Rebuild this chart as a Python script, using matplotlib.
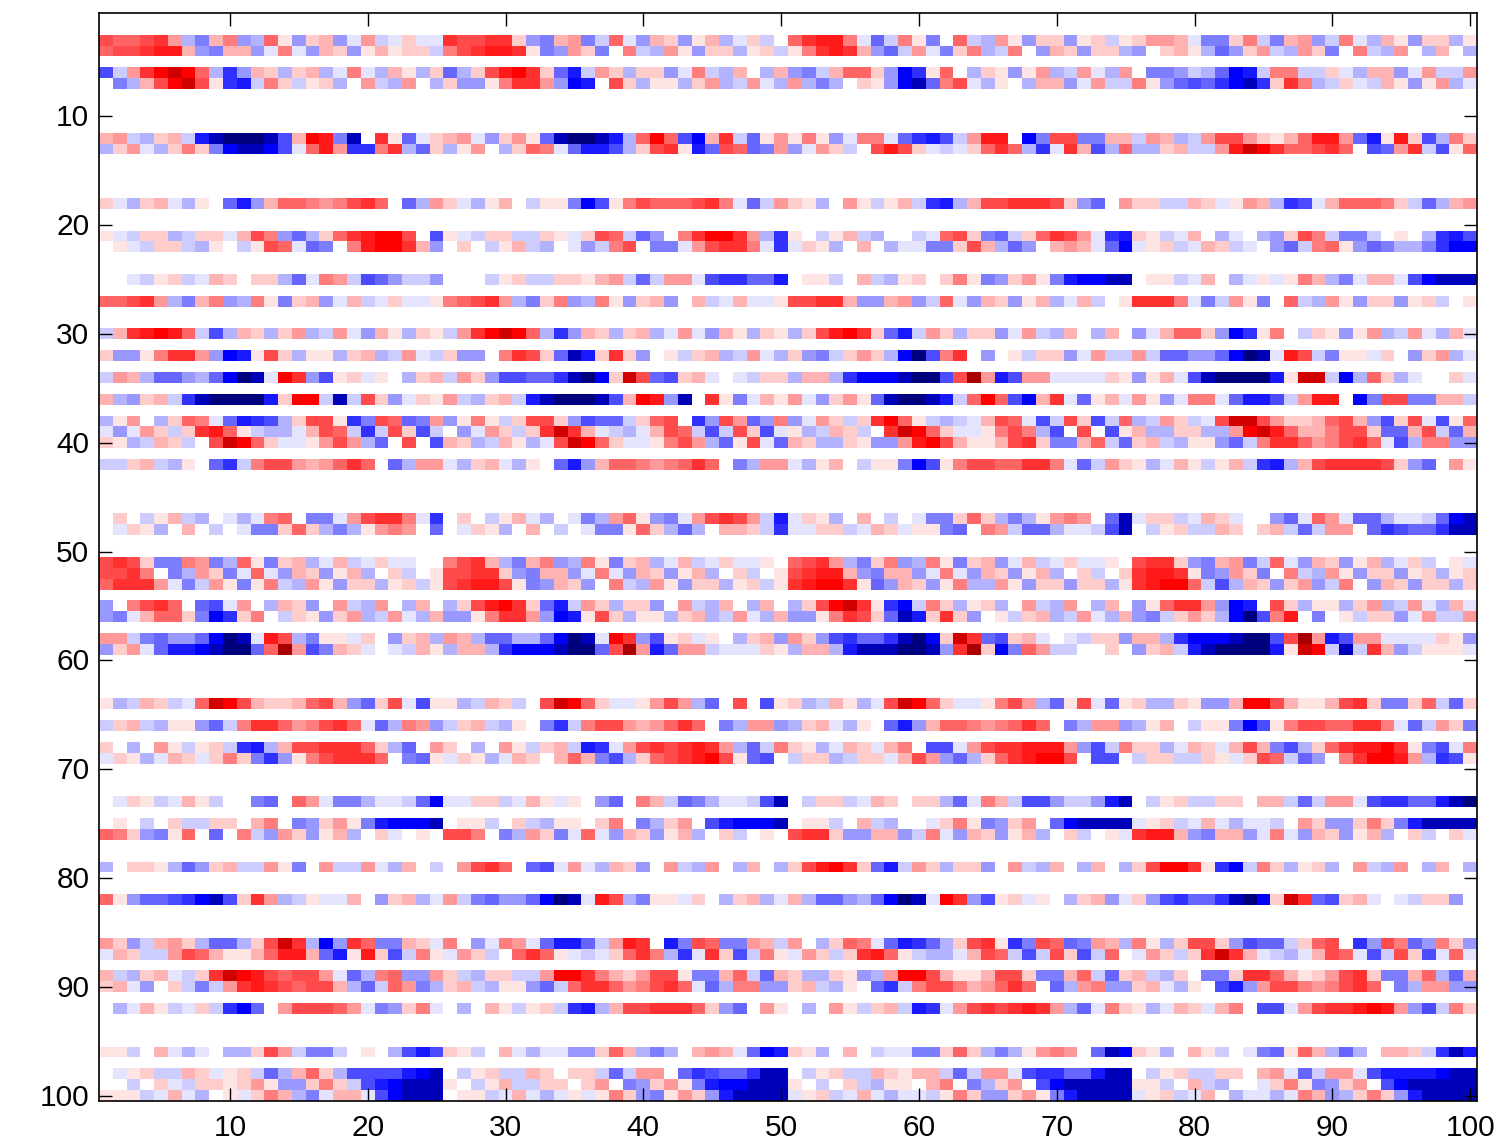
import numpy as np
import matplotlib
matplotlib.use('Agg')
import matplotlib.pyplot as plt
from matplotlib.colors import LinearSegmentedColormap
from matplotlib.transforms import ScaledTranslation

## Levels: . is white, A-L get stronger towards red, a-l towards blue
## Only the rows that have any colour are listed, one string per 25 columns
row_ids = [3, 4, 6, 7, 12, 13, 18, 21, 22, 25, 27, 30, 32, 34, 36, 38, 39, 40, 42, 47, 48,
           51, 52, 53, 55, 56, 58, 59, 64, 66, 68, 69, 73, 75, 76, 79, 82, 86, 87, 89, 90,
           92, 96, 98, 99, 100]

row_levels = [
    ("GFFGHDceCEdcFAdBCdaDbaBaa", "HGGHHBdeCDebFadCBdACcaBb.", "FHIIEafbEAe.FbcDAdBBdABbA", "BDDCaeeBEbeCDdbEacCAdBBcA"),
    ("FGGHIICdeCCdaEadCBdACABBb", "EGHIIHAedDBe.EbcDAdBBcABb", "AEHIHCdfbDaeBEcbE.dCBdBBc", "d.BCAcfdBDbcDBe.EbcD.cC.c"),
    ("gbDHJKJFchdCBcBCcaEacCAcB", "fcBGIJHBfibDBcBBdaEbcC.cC", "debCFFBdjhAF.cBAdADcbDacD", ".eedbcfjibEEbbBacCCdaDbbD"),
    (".ecCGJKGAhibEBbABc.DbcD.c", "BddAEHHDdji.GBcAAcBDcbDac", "Dcec.BAdjkfEGacA.cCCdaDbb", "EAdfgfhjkhBHEcbBabCAdADca"),
    ("CDbcBCbiklllkgCJIek.HAfaB", "CDadBDAfkllkicFJFgjCHbfAD", "AEAdaEEafhigbDII.jeGGeeCC", "bDCcbDGGDBACFIIDfiAIBgcEB"),
    ("cBDacBEBejkkjgaFIDhhEHcfB", "cAD.cBFEafiigcBGHAifGFfeD", "daDBb.GIGBabaBFHFchaHCgcF", "ccBCbbDIKJHFFGHF.gfDHbgAF"),
    ("BacBCacA.fidCFFEDEGHF.fcD", "BacAC.bAAejgAEGFFFGHEafbD", "BAc.DAbACbhicCGGHHHGBdf.D", "BBbbCBaADCchgaCFFFEBbfcCD"),
    ("AabBBcbBBaCGEdfcBFHIJJG.g", "AabBBbbBAaBGFbfd.EHJJHDch", "A.bACbc..baFGBefbBFHGDahi", "BAbaC.ca.cdBGEbeeb.A.chig"),
    (".AabBBbcA.bAGFafe.EIJJHCd", ".B.bACbc.adbEG.eeaDGHHEah", "aBAc.C.caaeeBGCcfd.CDCafj", "aABbaCBba.dfbEFAdfeccehjj"),
    ("..abABbaCB.BBcfaEDbgfdbbd", "...bABbbBBACDbfbDDaghhffi", ".AAb.CbcAB.BEAedBDAeijjkk", ".AAbaC.caAaAECceaCCagjkkk"),
    ("FFGHDceCEdcEAeBCdaCbaBaaA", "EFGHDceBEdcEAdBCd.CbaCaaA", "GGHHCddCDdbFadCBdACcaCb.A", "HHHEaebDAe.FbcDAdBBdABb.A"),
    ("bCHIJIFbgcCBcBDcbDadCAcBA", "bDHJKJFchdCBcBCcaDadCAcBA", "cBGIJHBfibDBcBBdaDbcC.cC.", "daCFFBdjhAE.bBAdADcbDacCa"),
    ("BddAEHHDdjiAGBcAAcBCcbDab", "Bdd.EHGBfkiBHBd.AbBCcbDac", "BdebBDBcjlgEH.d.AbBBdaDbb", "DbffddfjlkaIGbeAAaB.dBDca"),
    ("bDCcffdcfjlkaJHdgABaA.cBC", "bDBdggffhkljBKGfgBCa.abBB", "cCCchjjjkllgGLDigDDaaaaBA", "dACagklllliAKKbjcFBca..Ba"),
    ("CcdBCbhklllliBJJbkbGBdaBA", "DbcBCbiklllkgCJIdk.HAeaCA", "DadBDAfkllkibFJFgjCHafACa", "DAdaEEafiigbDII.jeGGeeCCb"),
    ("cAD.cBFEafihgcBGGAheGFfeD", "dAEAbBGGBdgffbBFG.hdGDfdE", "daDBbBHJFAbcbaCGFagbGBgbF", "cbDBbaGKKGDBBCFGCdgBGagAF"),
    ("adaDBbBHIFAbccaCGFbhbGBgb", ".daDBbBHKHCabcaCGFbgbGBga", "AcbCBb.HKJFBaaAEGEcg.G.gA", "CccBBccDJKIFCCEGGBffCGbfC"),
    ("BAcbCBb.GKJFBaaADGDcf.G.g", "CBcbCAcaGKJFBaaAEGDcfAGaf", "CBccBAddDIJGCAACGHBeeCFbf", "BCbcAAdfbEHHFDEGHFagcEEdd"),
    ("bbBCbcA.fhbEGGDCDFHF.fcDD", "acBCacA.fidCFFEDEFHF.ecDD", "acAC.bAAejgAEGGFFHHEafbDB", "AcaCAbACbhicCGHHHHGBdf.DA"),
    (".B.bACbc.acaEF.eeaDGHHEah", ".B.bACac.aecDFAdeaDGHGDbi", "aBAc.C.b.aeeBFBcecADED.fk", "aBBbaCBa..dfaFDaffcaabfjk"),
    (".aBAc.C.b.aeeBFBcecADED.f", ".aBAc.C.b.aeeAFBcfc.CCBbh", "aaBBbaCBaAAef.EDbffcaabgk", ".bABbbCB.BCbfbDD.fhgffhkk"),
    ("GHGBeeEDecFAeBCcaCbaBaa..", "EGHCceCEdcEAeBCcaCbaBaaA.", "FGHDceBEdcEAeBCdaCbaBaaA.", "GHHBdeCDebFadCBdACcaBb.Aa"),
    ("GGHE.ecDBeaFadCBdACc.Bb.A", "GGHHBdeCCdaEadCBdACc.Bb.A", "GHIICdeCCdaEadCBdACc.Bb.B", "HIIHAedDBe.EbcDAdBBdABcAB"),
    ("FHHHDaebDAeAEbcDAdBBcABbA", "GHIIGAedCBd.EbcDAdBBcABbA", "HIJJHAfdCBdAEccDAdBBdBBcA", "HIJJFbgcCBdBDdbE.dCBdBBcB"),
    ("d.EGHF.fgaD.cCBd.DbcD.cC.", "cBGIJHBfibDBcBBd.DbcC.cC.", "cBGJKHAhjbEBcABc.DbcD.cC.", "dAFHHDdji.GBcAAcBDcbDacCa"),
    ("deaCFFBejhBE.bBAdBDcbDacC", "ddAEHHDdjiAGBcAAcBCcbDacC", "ddAEHGBfkiBHBd.AbBCcbDacC", "debBDBcjlgEI.e.AbBBdaDbbD"),
    ("DDbefddfjlkaIGceAAaB.dBCc", "DCcffccfjlkaJHdgABaA.cBCd", "DBdghffhkljBKHfgBCa.abBBd", "CCchjjjkllgGLDigDDaaaaBAd"),
    ("dBDafiijkllfFLDgeCBa.abCA", "cCCchjjjkllfGLDifDDbaaaBA", "cCCcikkkllkdHLBjeFDbb..B.", "dBCbiklllliAKJbkbHCdbAAAa"),
    ("AcbCBbaFKJGCBBCFGCdfBGagA", "AcbCBb.GKJFBaaADGDcf.G.gA", "BcbCAcaGKJFBaaAEGDcfAGafA", "BccBAddCJJGCAACGHBeeBFbfB"),
    ("bBCbcAAdfbEHHFDEGHFafcEDd", "bBCbcA.ehbEGGDCDFHF.ecDDd", "cBCacA.fidCFFEDEFHF.ecDDd", "cAC.bAAejgAEGGFFHHEafbDBe"),
    ("B.c.DAbABbhicCGGHHHFBcf.D", "B.c.DAbBCbihaDGHGHIHDcfbE", "BAcaCBaCE.ggaDGHHIIIDdgbE", "BBcaCBaCGCegcBFHIIJHAegaE"),
    ("aBAcaCBaBEBehdAEGHHHF.efA", "aBAcaCB.CFCegcBFGHIJGAfg.", "bBBcbBBaCGDdfcBFHIJJG.gg.", "bBBbbBAaBGFbfd.EHJJIDchgA"),
    (".aBAbaCAb..ef.FDaeecaabfj", "aaBBbaCAaA.df.ECbfecaabgk", ".bBBbaCB.BBcfaECbggdbbdik", ".bABbbBB.CCbfbDDaghhffikl"),
    (".A.b.BbbBB.CE.edBDAeijjjk", ".AAb.BbcAA.BE.ecBD.gijjjk", ".AAb.Cbc..aBEAedBD.fjkkkk", "aABbaCacaab.DBddBEBeikkkk"),
    ("FEBdeAF.f.EbdDBdACc.Ba.A.", "GGE.ecDBeaFadCBdACc.Bb.A.", "GHHBddCCdbEadCBdACc.Bb.Aa", "HIICdeCCdaEadCBdACc.Bb.Ba"),
    ("c.BBAcfdBCbbDAe.DbbDacC.b", ".DGHF.fgaDacCBd.DbcD.cC.c", "BGIJHBfibDBcBBd.DbcC.cC.c", "BGJJHAhjbEBcABc.DbcD.cC.c"),
    ("FAdffghjkgBHDcbAaaC.dBCca", "DbefddfjlkaIGceAAaB.cBCca", "CcffdcfjlkaJHdgABaA.cBCda", "BdghffhkljBKHfgBCa.abBBd."),
    ("DBdbCDBcffcBGKHcjdHFeeCBa", "E.daEDafiifbDIH.ieGFeeDCb", "D.cBFEafihfcBGHAheGFfeDCc", "EAcBGGBdgffbBFG.hdGEfdEBd"),
    ("aCBbbDGFCAACFIICfiAIBgbEA", "aDBb.FHFAabaBFHEchaHBgbEA", "aDBbBHIFAbccaCGFbgbGBgbF.", "aDBbBHKHCabcaCGFagbGBgaFa"),
    ("CbcBCabBHKJIGFGGDafcEFddD", "BbcBBbbDJJHECBDGGAeeCFbfC", "BccBAdcDJJGCAACGGBeeCFbfB", "CbcB.eeBHHFCABDGHBeeCFcfC"),
    ("BCad.BbebDHIHGFGGCcfbFDec", "BCbcAAdfbFHHFDEGHFafcEEdd", "BCbcA.fhbEGGECDFHF.fcDEdd", "BCacA.gidDGGEDEGHF.ecDDdd"),
    (".caCAbaBbhjf.DGGGFDaedBEa", ".c.CAbABbhicCGGHHHFBdf.DA", ".c.DAbBCbihaDGHGHIHDcfaEB", "AcaCBaCE.ggaDGHHIJIDdgbEB"),
    ("AAb.Caca.ccBGDbeeb.A.cgig", "BAb.CacaaddBFCcec.CDCafji", "BAc.C.baaeeBFBcecADED.fkj", "BAc.CAb.aefAFCcfc.CCBbhki"),
    (".aABbbCBaABbfcCFBcggggijk", ".bABbbCB.BBbfbDD.fhgffhkk", ".bABbbCBACCbfbDDaghhffikk", ".bABbbBB.CDafbDDagiiiijkk"),
    ("..b.BabBBABDAddBEBbgijkkk", "A.bACbbBB.BD.edBDAeijjkkk", "A.b.BbcAA.CE.ecBD.gjkkkkk", "AAb.Cbc..aBEAedBD.gjkkkkk"),
    ("AAAbaCac.AaBECceaCCagjkkk", ".AAbaCacaAaAEBdeADBdikkkk", "aABbaCacaabAEBddBDAeikkkk", "aABbaC.caacaECdcBEBdikkkk"),
]

tick_values = [10, 20, 30, 40, 50, 60, 70, 80, 90, 100]

## Turn the letters into signed levels
red_letters = "ABCDEFGHIJKL"
blue_letters = "abcdefghijkl"
level_map = {'.': 0}
for i in range(12):
    level_map[red_letters[i]] = i + 1
    level_map[blue_letters[i]] = -(i + 1)

data = np.zeros((100, 100))
for row, chunks in zip(row_ids, row_levels):
    data[row - 1] = [level_map[c] for c in "".join(chunks)]

# white to pure colour over ten levels, the last two go darker
# odd N so that level 0 lands exactly on white
cmap = LinearSegmentedColormap.from_list('bwr_dark', [
    (0.0, (0, 0, 0.5)),
    (2 / 24, (0, 0, 1)),
    (0.5, (1, 1, 1)),
    (22 / 24, (1, 0, 0)),
    (1.0, (0.66, 0, 0)),
], N=257)

plt.rcParams['font.family'] = ['Liberation Sans', 'DejaVu Sans']

fig = plt.figure(figsize=(15.07, 11.48), dpi=100)
ax = fig.add_axes([99 / 1507, 1 - 1101 / 1148, (1477 - 99) / 1507, (1101 - 13) / 1148])
ax.imshow(data, cmap=cmap, vmin=-12, vmax=12, aspect='auto', interpolation='nearest',
          extent=(0.5, 100.5, 100.5, 0.5))

ax.set_xticks(tick_values)
ax.set_yticks(tick_values)
ax.tick_params(direction='in', top=True, right=True, length=9.5, width=1, labelsize=21.5)
ax.tick_params(axis='x', pad=9)
ax.tick_params(axis='y', pad=7)
for side in ax.spines.values():
    side.set_linewidth(1.2)

# y labels sit a pixel higher in the reference
nudge = ScaledTranslation(0, 1 / 100, fig.dpi_scale_trans)
for label in ax.get_yticklabels():
    label.set_transform(label.get_transform() + nudge)

fig.savefig('out.png', dpi=100)
